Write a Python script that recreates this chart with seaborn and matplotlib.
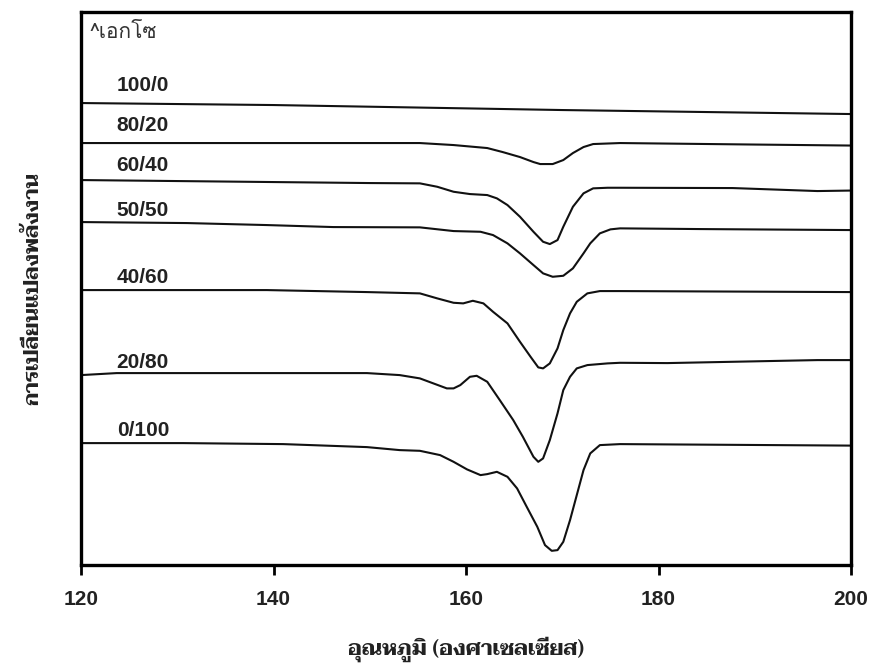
import matplotlib
matplotlib.use("Agg")
import matplotlib.pyplot as plt
import numpy as np
import pandas as pd
import seaborn as sns

# DSC thermograms of blends (ratio labels), heat flow in arbitrary units, offset per curve
ratio_labels = ["100/0", "80/20", "60/40", "50/50", "40/60", "20/80", "0/100"]

temp_100_0 = [120, 140, 158, 170, 185, 200]
flow_100_0 = [46.2, 46.0, 45.7, 45.5, 45.3, 45.1]

temp_80_20 = [120, 140, 150, 155.2, 158.7, 162.2, 163.8, 165.6, 167.0, 167.7, 169.0, 170.1,
              171.1, 172.2, 173.2, 176.0, 190, 200]
flow_80_20 = [42.2, 42.2, 42.2, 42.2, 42.0, 41.7, 41.3, 40.8, 40.3, 40.1, 40.1, 40.5,
              41.2, 41.8, 42.1, 42.2, 42.05, 41.95]

temp_60_40 = [120, 130, 140, 150, 155.2, 157.0, 158.7, 160.4, 162.2, 163.2, 164.3, 165.6,
              167.0, 168.0, 168.7, 169.5, 170.1, 171.1, 172.2, 173.2, 174.7, 176.0, 187.7,
              196.5, 200]
flow_60_40 = [38.5, 38.4, 38.3, 38.2, 38.17, 37.83, 37.33, 37.1, 37.0, 36.67, 36.0, 34.83,
              33.33, 32.33, 32.1, 32.5, 33.83, 35.83, 37.17, 37.67, 37.73, 37.73, 37.7,
              37.4, 37.45]

temp_50_50 = [120, 131.0, 139.3, 146.2, 155.2, 158.7, 161.5, 162.8, 164.3, 165.6, 167.0,
              168.0, 169.0, 170.1, 171.1, 172.2, 172.9, 173.9, 175.0, 176.0, 184.3, 200]
flow_50_50 = [34.3, 34.2, 34.0, 33.8, 33.77, 33.4, 33.33, 33.0, 32.17, 31.17, 30.0,
              29.17, 28.83, 28.93, 29.67, 31.17, 32.17, 33.17, 33.57, 33.67, 33.6, 33.5]

temp_40_60 = [120, 132.4, 139.3, 149.7, 155.2, 157.0, 158.7, 159.7, 160.7, 161.8, 162.8,
              164.3, 165.6, 166.7, 167.5, 168.0, 168.7, 169.5, 170.1, 170.8, 171.5, 172.6,
              173.9, 176.0, 200]
flow_40_60 = [27.5, 27.5, 27.5, 27.3, 27.17, 26.67, 26.23, 26.17, 26.43, 26.17, 25.33,
              24.17, 22.33, 20.83, 19.77, 19.67, 20.17, 21.67, 23.5, 25.17, 26.33, 27.17,
              27.4, 27.4, 27.3]

temp_20_80 = [120, 123.7, 132.4, 149.7, 153.1, 155.2, 156.6, 158.0, 158.7, 159.4, 160.4,
              161.1, 162.2, 163.5, 164.9, 165.9, 167.0, 167.5, 168.0, 168.7, 169.5, 170.1,
              170.8, 171.5, 172.6, 174.7, 176.0, 180.9, 196.5, 200]
flow_20_80 = [19.0, 19.2, 19.2, 19.2, 19.0, 18.67, 18.17, 17.67, 17.67, 18.0, 18.83,
              18.93, 18.33, 16.5, 14.5, 12.83, 10.83, 10.33, 10.67, 12.5, 15.17, 17.5,
              18.83, 19.67, 20.0, 20.17, 20.23, 20.2, 20.5, 20.5]

temp_0_100 = [120, 130.6, 141.0, 149.7, 153.1, 155.2, 157.3, 158.7, 160.1, 161.5, 162.2,
              163.2, 164.3, 165.3, 166.3, 167.4, 168.2, 168.9, 169.5, 170.1, 170.8, 171.5,
              172.2, 172.9, 173.9, 176.0, 200]
flow_0_100 = [12.2, 12.2, 12.1, 11.8, 11.5, 11.43, 11.0, 10.33, 9.57, 9.0, 9.1, 9.33,
              8.83, 7.67, 5.83, 3.83, 2.0, 1.43, 1.5, 2.33, 4.5, 7.0, 9.5, 11.17, 12.0,
              12.1, 11.95]

# label anchor heights (same units as heat flow)
label_heights = [48.0, 44.0, 40.0, 35.5, 28.8, 20.3, 13.5]

x_ticks = [120, 140, 160, 180, 200]
x_label = "อุณหภูมิ (องศาเซลเซียส)"
y_label = "การเปลี่ยนแปลงพลังงาน"
exo_note = "^เอกโซ"

series = [
    (temp_100_0, flow_100_0), (temp_80_20, flow_80_20), (temp_60_40, flow_60_40),
    (temp_50_50, flow_50_50), (temp_40_60, flow_40_60), (temp_20_80, flow_20_80),
    (temp_0_100, flow_0_100),
]
frames = [pd.DataFrame({"temp": t, "flow": f, "ratio": lab})
          for lab, (t, f) in zip(ratio_labels, series)]
df = pd.concat(frames, ignore_index=True)

sns.set_style("ticks")
plt.rcParams["font.family"] = ["Liberation Sans", "DejaVu Sans"]

fig = plt.figure(figsize=(8.72, 6.68), dpi=100)
ax = fig.add_axes([0.093, 0.154, 0.883, 0.828])

for lab in ratio_labels:
    sns.lineplot(data=df[df["ratio"] == lab], x="temp", y="flow", sort=False,
                 estimator=None, color="#111111", linewidth=1.5, ax=ax,
                 solid_joinstyle="round", solid_capstyle="round")

for lab, h in zip(ratio_labels, label_heights):
    ax.text(123.7, h, lab, fontsize=15, fontweight="bold", va="center", ha="left",
            color="#222222", family=["Liberation Sans", "DejaVu Sans"])

ax.text(120.9, 53.3, exo_note, fontsize=15, va="center", ha="left", color="#333333",
        family=["Loma", "Sarabun", "DejaVu Sans"])

ax.set_xlim(120, 200)
ax.set_ylim(0, 55.3)
ax.set_xticks(x_ticks)
ax.set_xticklabels([str(v) for v in x_ticks], fontsize=15, fontweight="bold")
ax.set_yticks([])
ax.tick_params(axis="x", direction="out", length=7, width=2, pad=11, colors="black")
for lbl in ax.get_xticklabels():
    lbl.set_color("#222222")

for side in ["left", "right", "top", "bottom"]:
    ax.spines[side].set_visible(True)
    ax.spines[side].set_linewidth(2.4)
    ax.spines[side].set_color("black")

thai_serif = ["Norasi", "Kinnari", "Taviraj", "Trirong", "DejaVu Sans"]
ax.set_xlabel(x_label, fontsize=15.5, fontweight="bold", family=thai_serif, labelpad=20,
              color="#222222")
ax.set_ylabel(y_label, fontsize=15, fontweight="bold", family=thai_serif, labelpad=28,
              color="#222222")

fig.savefig("out.png", dpi=100)
